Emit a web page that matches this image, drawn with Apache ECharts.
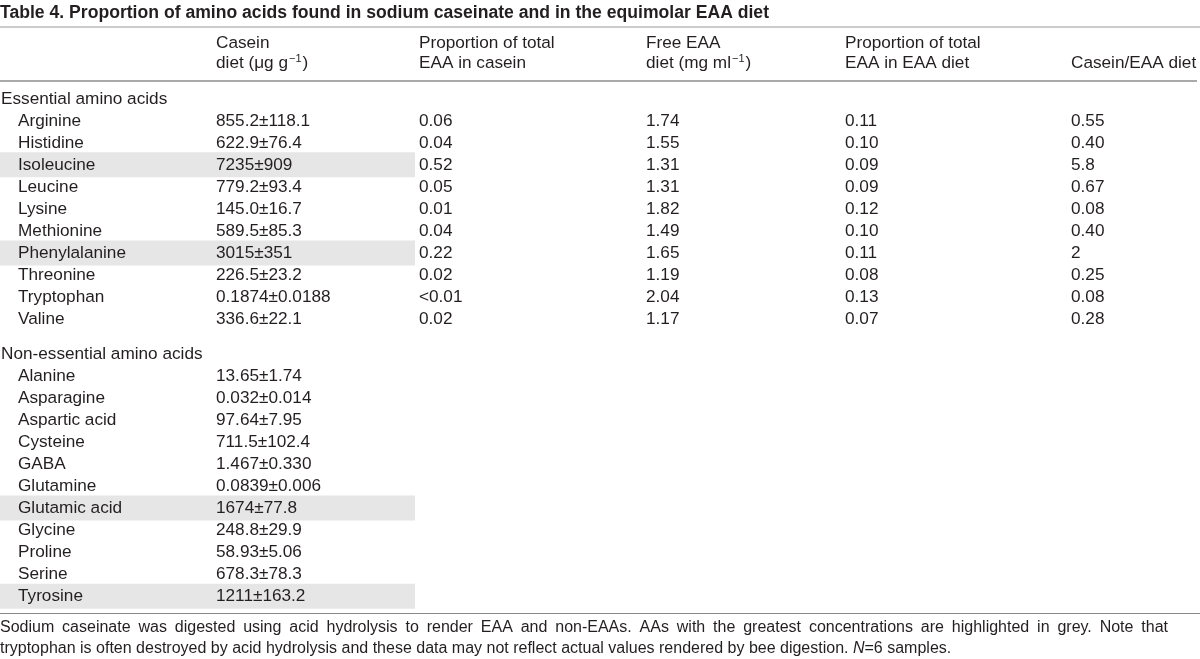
<!DOCTYPE html>
<html><head><meta charset="utf-8">
<script src="https://cdn.jsdelivr.net/npm/echarts@6/dist/echarts.min.js"></script>
<style>html,body{margin:0;padding:0;background:#fff}#c{width:1200px;height:659px}</style>
</head><body><div id="c"></div>
<script>
// ---- data ----
const titleText = 'Table 4. Proportion of amino acids found in sodium caseinate and in the equimolar EAA diet';
const essentialLabel = 'Essential amino acids';
const nonEssentialLabel = 'Non-essential amino acids';
const essentialNames = ['Arginine','Histidine','Isoleucine','Leucine','Lysine','Methionine','Phenylalanine','Threonine','Tryptophan','Valine'];
const caseinEssential = ['855.2±118.1','622.9±76.4','7235±909','779.2±93.4','145.0±16.7','589.5±85.3','3015±351','226.5±23.2','0.1874±0.0188','336.6±22.1'];
const propCasein = ['0.06','0.04','0.52','0.05','0.01','0.04','0.22','0.02','<0.01','0.02'];
const freeEAA = ['1.74','1.55','1.31','1.31','1.82','1.49','1.65','1.19','2.04','1.17'];
const propEAA = ['0.11','0.10','0.09','0.09','0.12','0.10','0.11','0.08','0.13','0.07'];
const caseinEAARatio = ['0.55','0.40','5.8','0.67','0.08','0.40','2','0.25','0.08','0.28'];
const nonEssentialNames = ['Alanine','Asparagine','Aspartic acid','Cysteine','GABA','Glutamine','Glutamic acid','Glycine','Proline','Serine','Tyrosine'];
const caseinNonEssential = ['13.65±1.74','0.032±0.014','97.64±7.95','711.5±102.4','1.467±0.330','0.0839±0.006','1674±77.8','248.8±29.9','58.93±5.06','678.3±78.3','1211±163.2'];
const highlighted = ['Isoleucine','Phenylalanine','Glutamic acid','Tyrosine'];
const footLine1 = 'Sodium caseinate was digested using acid hydrolysis to render EAA and non-EAAs. AAs with the greatest concentrations are highlighted in grey. Note that';
const footLine2a = 'tryptophan is often destroyed by acid hydrolysis and these data may not reflect actual values rendered by bee digestion. ';
const footLine2b = '=6 samples.';

// ---- layout ----
const FONT = "'Liberation Sans', Arial, sans-serif";
const FS = 17.2;
const FFS = 16;
const TXT = '#231f20';
const colX = { group: 1, name: 18, casein: 216, prop: 419, free: 646, propEAA: 845, ratio: 1071 };
const neStart = 11.56;

const cells = [];
const bands = [];
cells.push({ x: colX.group, r: 0, t: essentialLabel });
essentialNames.forEach((n, i) => {
  const r = 1 + i;
  cells.push({ x: colX.name, r, t: n });
  cells.push({ x: colX.casein, r, t: caseinEssential[i] });
  cells.push({ x: colX.prop, r, t: propCasein[i] });
  cells.push({ x: colX.free, r, t: freeEAA[i] });
  cells.push({ x: colX.propEAA, r, t: propEAA[i] });
  cells.push({ x: colX.ratio, r, t: caseinEAARatio[i] });
  if (highlighted.includes(n)) bands.push(r);
});
cells.push({ x: colX.group, r: neStart, t: nonEssentialLabel });
nonEssentialNames.forEach((n, i) => {
  const r = neStart + 1 + i;
  cells.push({ x: colX.name, r, t: n });
  cells.push({ x: colX.casein, r, t: caseinNonEssential[i] });
  if (highlighted.includes(n)) bands.push(r);
});

const ROW = 22.05, ROW0Y = 99;
const yMin = -0.5, yMax = neStart + 11 + 0.5;
const gridTop = ROW0Y + yMin * ROW;
const gridH = (yMax - yMin) * ROW;

// slightly justified first footnote line
const ctx = document.createElement('canvas').getContext('2d');
ctx.font = FFS + "px 'Liberation Sans', Arial, sans-serif";
const words = footLine1.split(' ');
const wordW = words.map(w => ctx.measureText(w).width);
const totalW = wordW.reduce((a, b) => a + b, 0);
const justifyTo = 1168;
const gap = (justifyTo - totalW) / (words.length - 1);
const footGraphics = [];
let fx = 0;
words.forEach((w, i) => {
  footGraphics.push({ type: 'text', x: fx, y: 628, style: { text: w, fill: TXT, fontSize: FFS, fontFamily: FONT, verticalAlign: 'middle' } });
  fx += wordW[i] + gap;
});

const chart = echarts.init(document.getElementById('c'), null, { renderer: 'canvas' });
const supRich = { a: { fontSize: FS, fontFamily: FONT, fill: TXT, lineHeight: 20 }, s: { fontSize: 11, fontFamily: FONT, fill: TXT, verticalAlign: 'top', lineHeight: 20, padding: [0, 1, 8, 1] } };
chart.setOption({
  animation: false,
  backgroundColor: '#fff',
  grid: { left: 0, width: 1200, top: gridTop, height: gridH, show: false },
  xAxis: { type: 'value', min: 0, max: 1200, show: false },
  yAxis: { type: 'value', min: yMin, max: yMax, inverse: true, show: false },
  series: [
    {
      type: 'custom', z: 1,
      data: bands.map(r => [0, r]),
      renderItem(params, api) {
        const p = api.coord([0, api.value(1)]);
        const p2 = api.coord([415, api.value(1)]);
        return { type: 'rect', shape: { x: 0, y: p[1] - 12.8, width: p2[0], height: 25 }, style: { fill: '#e6e6e6' } };
      }
    },
    {
      type: 'custom', z: 2,
      data: cells.map(c => [c.x, c.r]),
      renderItem(params, api) {
        const p = api.coord([api.value(0), api.value(1)]);
        return { type: 'text', x: p[0], y: p[1], style: { text: cells[params.dataIndex].t, fill: TXT, fontSize: FS, fontFamily: FONT, align: 'left', verticalAlign: 'middle' } };
      }
    }
  ],
  graphic: [
    { type: 'text', x: 0, y: 13, style: { text: titleText, fill: TXT, fontSize: 17.6, fontWeight: 'bold', fontFamily: FONT, verticalAlign: 'middle' } },
    { type: 'line', shape: { x1: 0, y1: 27, x2: 1200, y2: 27 }, style: { stroke: '#999', lineWidth: 1 } },
    { type: 'text', x: colX.casein, y: 43, style: { text: 'Casein', fill: TXT, fontSize: FS, fontFamily: FONT, verticalAlign: 'middle' } },
    { type: 'text', x: colX.casein, y: 63, style: { text: '{a|diet (μg g}{s|−1}{a|)}', fill: TXT, fontFamily: FONT, verticalAlign: 'middle', rich: supRich } },
    { type: 'text', x: colX.prop, y: 43, style: { text: 'Proportion of total', fill: TXT, fontSize: FS, fontFamily: FONT, verticalAlign: 'middle' } },
    { type: 'text', x: colX.prop, y: 63, style: { text: 'EAA in casein', fill: TXT, fontSize: FS, fontFamily: FONT, verticalAlign: 'middle' } },
    { type: 'text', x: colX.free, y: 43, style: { text: 'Free EAA', fill: TXT, fontSize: FS, fontFamily: FONT, verticalAlign: 'middle' } },
    { type: 'text', x: colX.free, y: 63, style: { text: '{a|diet (mg ml}{s|−1}{a|)}', fill: TXT, fontFamily: FONT, verticalAlign: 'middle', rich: supRich } },
    { type: 'text', x: colX.propEAA, y: 43, style: { text: 'Proportion of total', fill: TXT, fontSize: FS, fontFamily: FONT, verticalAlign: 'middle' } },
    { type: 'text', x: colX.propEAA, y: 63, style: { text: 'EAA in EAA diet', fill: TXT, fontSize: FS, fontFamily: FONT, verticalAlign: 'middle' } },
    { type: 'text', x: colX.ratio, y: 63, style: { text: 'Casein/EAA diet', fill: TXT, fontSize: FS, fontFamily: FONT, verticalAlign: 'middle' } },
    { type: 'line', shape: { x1: 0, y1: 81, x2: 1197, y2: 81 }, style: { stroke: '#555', lineWidth: 1.2 } },
    { type: 'line', shape: { x1: 0, y1: 613.5, x2: 1200, y2: 613.5 }, style: { stroke: '#888', lineWidth: 1 } },
    ...footGraphics,
    { type: 'text', x: 0, y: 649, style: { text: '{a|' + footLine2a + '}{i|N}{a|' + footLine2b + '}', verticalAlign: 'middle',
        rich: { a: { fontSize: FFS, fontFamily: FONT, fill: TXT }, i: { fontSize: FFS, fontFamily: FONT, fontStyle: 'italic', fill: TXT } } } }
  ]
});
</script>
</body></html>
